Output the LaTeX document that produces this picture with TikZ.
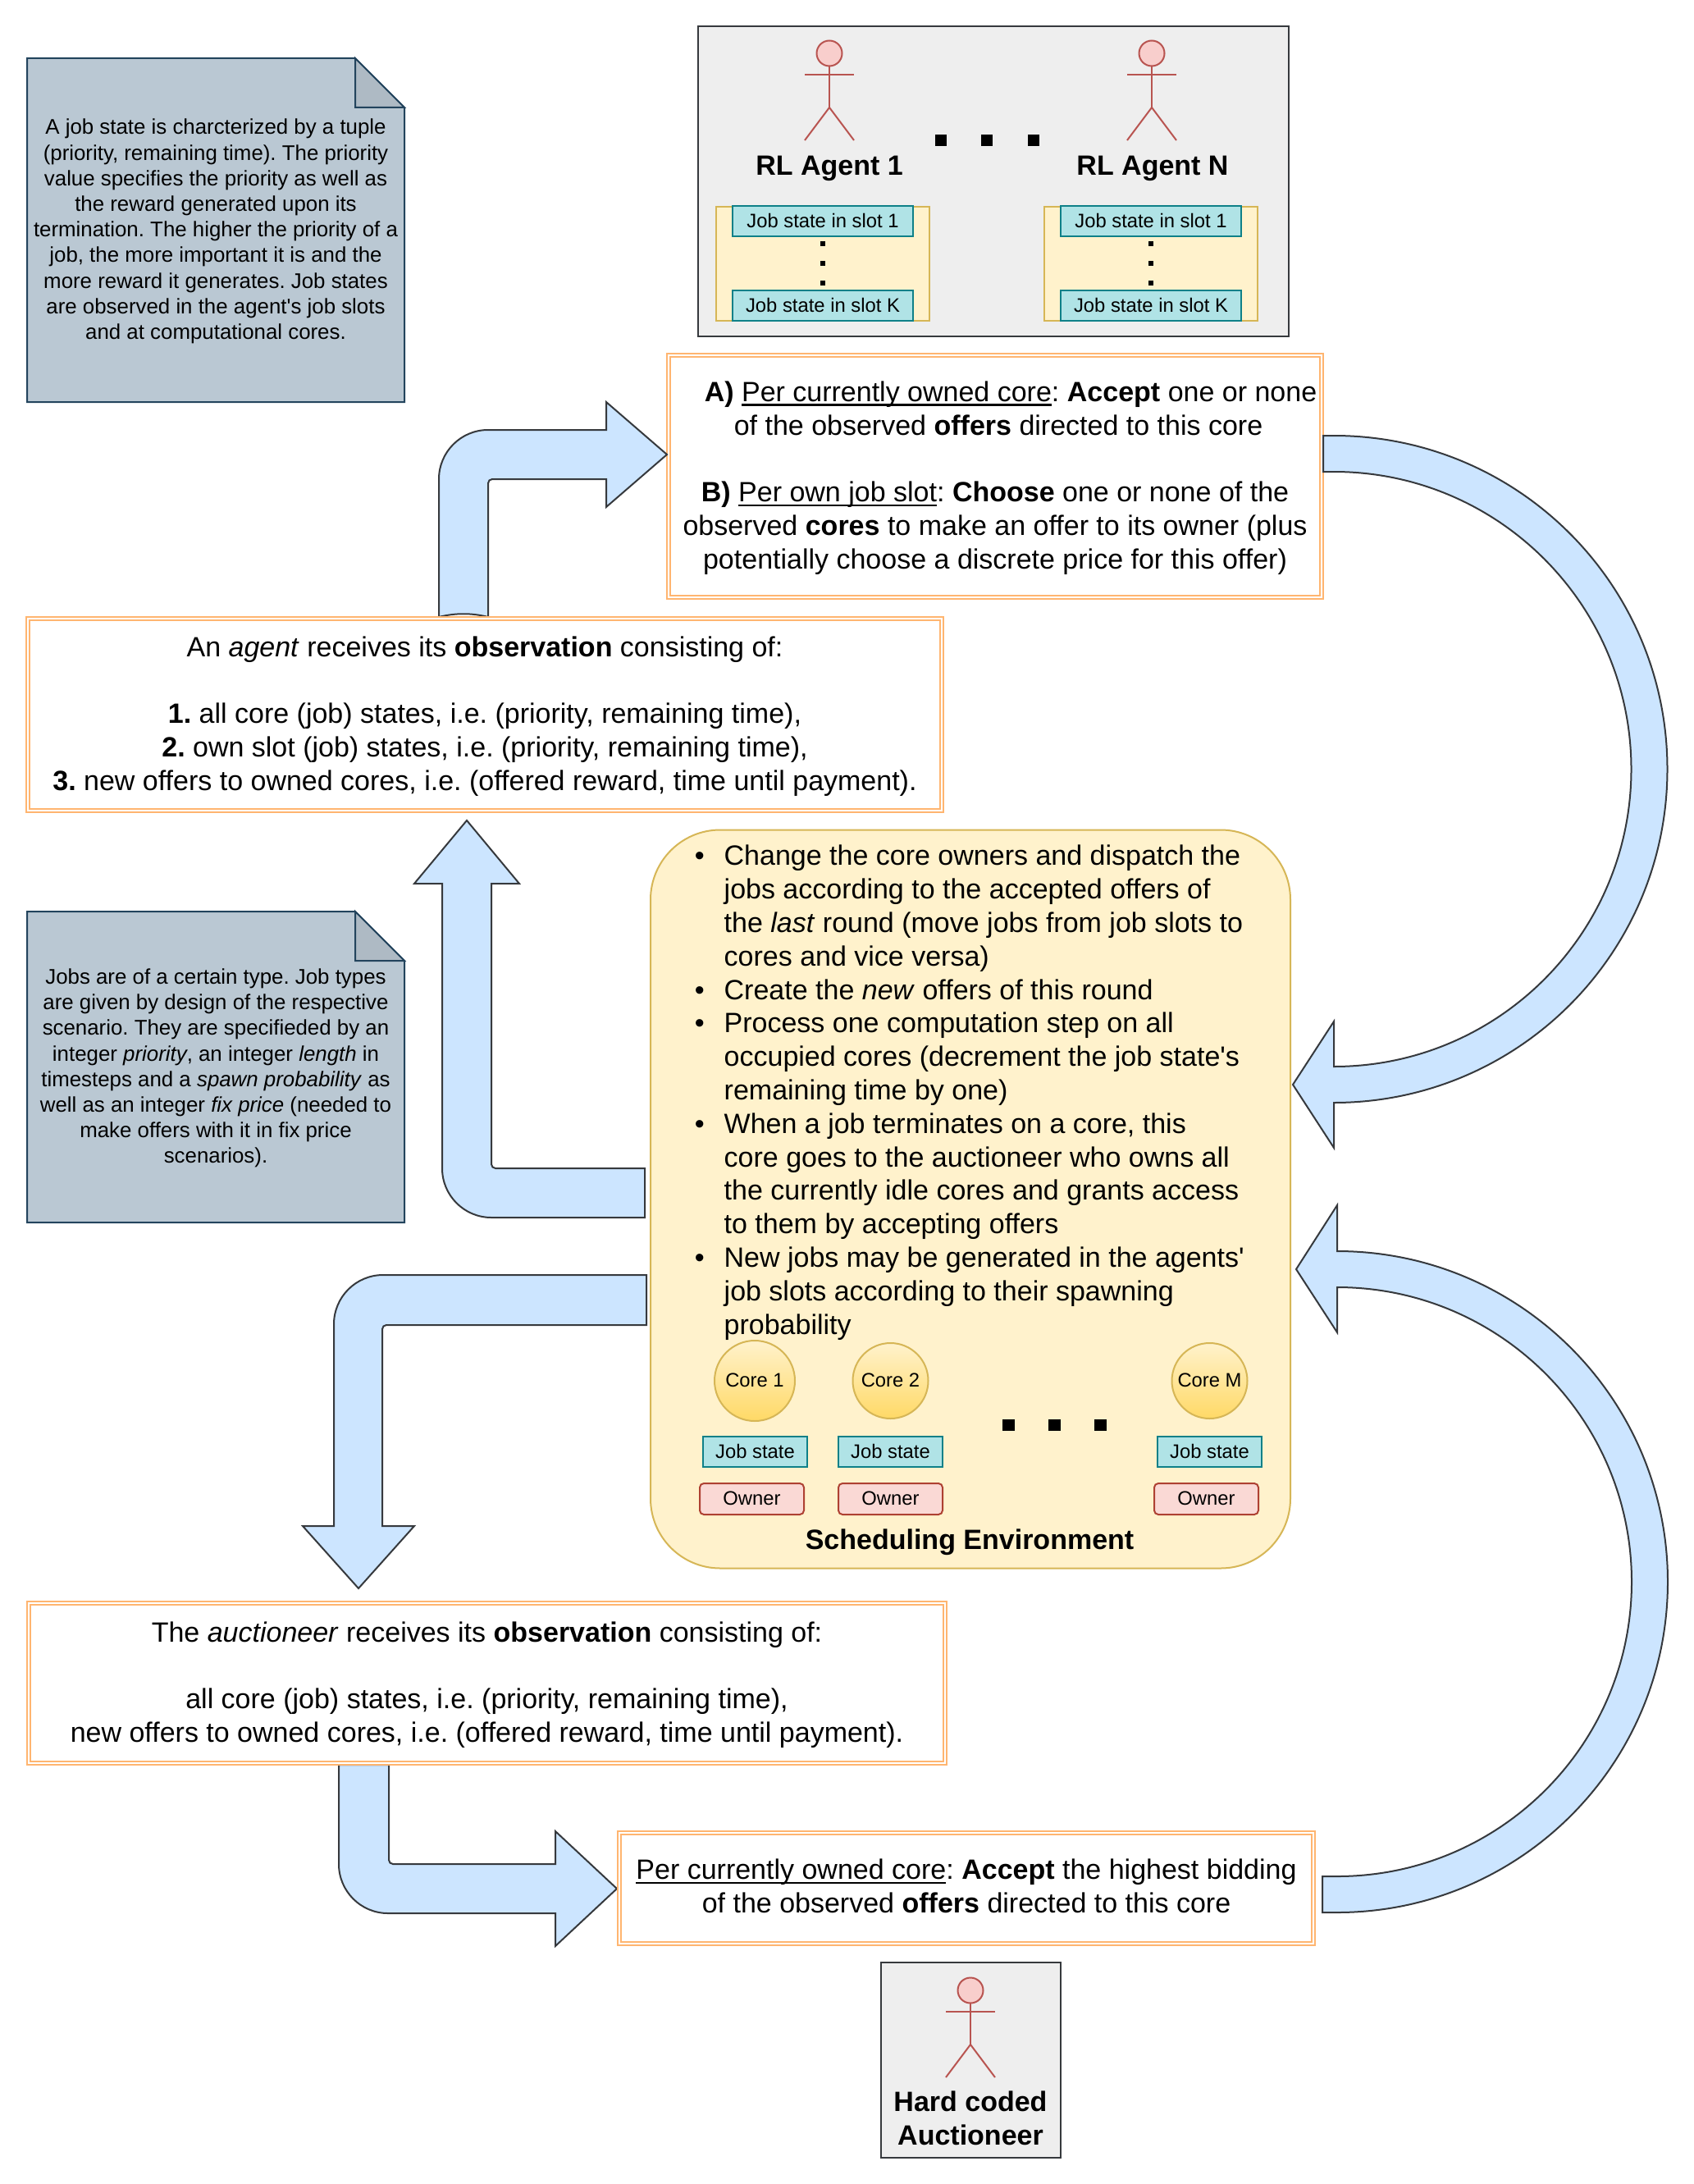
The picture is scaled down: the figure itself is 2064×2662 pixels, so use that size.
\documentclass[tikz,border=0pt]{standalone}
\usepackage{fontspec}
\setmainfont{Liberation Sans}[Ligatures={NoCommon,TeXOff}]
\usetikzlibrary{positioning}
\definecolor{blockfill}{HTML}{CCE5FF}
\definecolor{darkline}{HTML}{36393D}
\definecolor{obsline}{HTML}{FFB570}
\definecolor{envfill}{HTML}{FFF2CC}
\definecolor{envline}{HTML}{D6B656}
\definecolor{corefill}{HTML}{FFD966}
\definecolor{jobfill}{HTML}{B0E3E6}
\definecolor{jobline}{HTML}{0E8088}
\definecolor{ownfill}{HTML}{FAD9D5}
\definecolor{ownline}{HTML}{AE4132}
\definecolor{notefill}{HTML}{BAC8D3}
\definecolor{foldfill}{HTML}{AEBAC4}
\definecolor{noteline}{HTML}{23445D}
\definecolor{grayfill}{HTML}{EEEEEE}
\definecolor{actfill}{HTML}{F8CECC}
\definecolor{actline}{HTML}{B85450}
\newcommand{\ulbar}[1]{\leavevmode\setbox0\hbox{#1}\rlap{\vrule width\wd0 height -3pt depth 5.5pt}\box0}
\newcommand{\bitem}{\leavevmode\llap{\textbullet\hspace{24pt}}}
\frenchspacing

\begin{document}
\begin{tikzpicture}[x=1pt,y=-1pt,
bigfont/.style={font=\fontsize{34}{40.8}\selectfont\frenchspacing},
smallfont/.style={font=\fontsize{23.8}{28.6}\selectfont,text height=17pt,text depth=2pt},
blockarrow/.style={draw=darkline,fill=blockfill,line width=2pt,line join=miter},
obsbox/.style={draw=obsline,double=white,double distance=2pt,line width=2pt,fill=white,inner sep=0pt,align=center,bigfont},
jobbox/.style={draw=jobline,fill=jobfill,line width=2pt,inner sep=0pt,minimum height=37pt,smallfont},
ownbox/.style={draw=ownline,fill=ownfill,line width=2pt,rounded corners=5pt,inner sep=0pt,minimum width=127pt,minimum height=38pt,smallfont},
corecirc/.style={circle,draw=envline,top color=envfill,bottom color=corefill,line width=2pt,inner sep=0pt,smallfont},
notetext/.style={align=center,inner sep=0pt,font=\fontsize{25.85}{31.2}\selectfont\frenchspacing},
graybox/.style={draw=darkline,fill=grayfill,line width=2pt},
actor/.style={draw=actline,line width=2pt}]
\useasboundingbox (0,0) rectangle (2064,2662);

% agents on top
\draw [graybox] (851,32) rectangle (1571,410);
\draw [graybox] (1074,2392) rectangle (1293,2630);
\foreach \sx in {1003,1403} {
\fill [envfill,draw=envline,line width=2pt] (\sx-130,252) rectangle (\sx+130,391);
\node [jobbox,minimum width=220pt] (slota\sx) at (\sx,270) {Job state in slot 1};
\node [jobbox,minimum width=220pt] (slotk\sx) at (\sx,372.5) {Job state in slot K};
\foreach \dy in {297,321,345} \fill (\sx-3,\dy-3) rectangle ++(6,6);
}
\foreach \ax/\ay in {1011/50,1404/50,1183/2411} {
\draw [actor,fill=actfill] (\ax,\ay+15) circle (15.5pt);
\draw [actor] (\ax,\ay+30.5) -- (\ax,\ay+81);
\draw [actor] (\ax-30,\ay+41) -- (\ax+30,\ay+41);
\draw [actor] (\ax-30,\ay+121) -- (\ax,\ay+81) -- (\ax+30,\ay+121);
}
\node [bigfont,inner sep=0pt] (agentone) at (1011,205) {\textbf{RL Agent 1}};
\node [bigfont,inner sep=0pt] (agentn) at (1405,205) {\textbf{RL Agent N}};
\foreach \dx in {1147,1203,1259.5} \fill (\dx-7,164) rectangle ++(14,14);

% notes on the left
\foreach \nt/\nb in {71/490,1111/1490} {
\draw [draw=noteline,fill=notefill,line width=2pt] (33,\nt) -- (433,\nt) -- (493,\nt+60) -- (493,\nb) -- (33,\nb) -- cycle;
\draw [draw=noteline,fill=foldfill,line width=2pt] (433,\nt) -- (493,\nt+60) -- (433,\nt+60) -- cycle;
}
\node [notetext] (notestate) at (263,282) {A job state is charcterized by a tuple\\(priority, remaining time). The priority\\value specifies the priority as well as\\the reward generated upon its\\termination. The higher the priority of a\\job, the more important it is and the\\more reward it generates. Job states\\are observed in the agent's job slots\\and at computational cores.};
\node [notetext] (notetype) at (263,1302) {Jobs are of a certain type. Job types\\are given by design of the respective\\scenario. They are specifieded by an\\integer \textit{priority}, an integer \textit{length} in\\timesteps and a \textit{spawn probability} as\\well as an integer \textit{fix price} (needed to\\make offers with it in fix price\\scenarios).};

% action box of the agents
\node [obsbox,minimum width=796pt,minimum height=295pt] (action) at (1213,580.5) {\rule{0pt}{28.5pt}\hspace*{38pt}\textbf{A)} \ulbar{Per currently owned core}: \textbf{Accept} one or none\\\hspace*{8pt}of the observed \textbf{offers} directed to this core\\[40.8pt]\textbf{B)} \ulbar{Per own job slot}: \textbf{Choose} one or none of the\\observed \textbf{cores} to make an offer to its owner (plus\\potentially choose a discrete price for this offer)};

% block arrows
\draw [blockarrow] (535,752) -- (535,584) arc[start angle=180,end angle=90,radius=60pt] -- (739,524) -- (739,490) -- (813,554) -- (739,618) -- (739,584) -- (600,584) arc[start angle=90,end angle=180,radius=5pt] -- (595,752) .. controls (575,747) and (555,747) .. (535,752) -- cycle;
\draw [blockarrow] (1613,531) -- (1626,531) arc[start angle=90,end angle=-90,radius=406.5pt] -- (1626,1399) -- (1576,1322) -- (1626,1245) -- (1626,1300) arc[start angle=-90,end angle=90,radius=362.5pt] -- (1613,575) -- cycle;
\draw [blockarrow] (786,1484) -- (599,1484) arc[start angle=-90,end angle=-180,radius=60pt] -- (539,1077) -- (505,1077) -- (569,1000) -- (633,1077) -- (599,1077) -- (599,1419) arc[start angle=180,end angle=270,radius=5pt] -- (786,1424) -- cycle;
\draw [blockarrow] (788,1554) -- (467,1554) arc[start angle=90,end angle=180,radius=60pt] -- (407,1860) -- (369,1860) -- (437,1936) -- (505,1860) -- (466,1860) -- (466,1620) arc[start angle=180,end angle=90,radius=5pt] -- (788,1615) -- cycle;
\draw [blockarrow] (413,2151) -- (413,2272) arc[start angle=180,end angle=270,radius=60pt] -- (677,2332) -- (677,2372) -- (752,2302) -- (677,2232) -- (677,2272) -- (479,2272) arc[start angle=270,end angle=180,radius=5pt] -- (474,2151) -- cycle;
\draw [blockarrow] (1612,2331) -- (1630,2331) arc[start angle=-90,end angle=90,radius=403pt] -- (1630,1469) -- (1580,1547) -- (1630,1624) -- (1630,1569) arc[start angle=90,end angle=-90,radius=359pt] -- (1612,2287) -- cycle;

% observation boxes
\node [obsbox,minimum width=1114pt,minimum height=234pt] (agentobs) at (591,871) {\rule{0pt}{28.5pt}An \textit{agent} receives its \textbf{observation} consisting of:\\[40.8pt]\textbf{1.} all core (job) states, i.e. (priority, remaining time),\\\textbf{2.} own slot (job) states, i.e. (priority, remaining time),\\\textbf{3.} new offers to owned cores, i.e. (offered reward, time until payment).};
\node [obsbox,minimum width=1117pt,minimum height=195pt] (auctobs) at (593.5,2051.5) {\rule{0pt}{28.5pt}The \textit{auctioneer} receives its \textbf{observation} consisting of:\\[40.8pt]all core (job) states, i.e. (priority, remaining time),\\new offers to owned cores, i.e. (offered reward, time until payment).};
\node [obsbox,minimum width=846pt,minimum height=135pt] (auctaction) at (1178,2301.5) {\ulbar{Per currently owned core}: \textbf{Accept} the highest bidding\\of the observed \textbf{offers} directed to this core\rule[-5pt]{0pt}{1pt}};

% scheduling environment
\node [draw=envline,fill=envfill,line width=2pt,rounded corners=85pt,minimum width=780pt,minimum height=900pt,inner sep=0pt] (env) at (1183,1461.5) {};
\node [bigfont,align=left,anchor=north west,inner sep=0pt] (envtext) at (882.5,1030) {\bitem Change the core owners and dispatch the\\jobs according to the accepted offers of\\the \textit{last} round (move jobs from job slots to\\cores and vice versa)\\\bitem Create the \textit{new} offers of this round\\\bitem Process one computation step on all\\occupied cores (decrement the job state's\\remaining time by one)\\\bitem When a job terminates on a core, this\\core goes to the auctioneer who owns all\\the currently idle cores and grants access\\to them by accepting offers\\\bitem New jobs may be generated in the agents'\\job slots according to their spawning\\probability};
\node [corecirc,minimum size=98pt] (coreone) at (920,1683) {Core 1};
\node [corecirc,minimum size=92pt] (coretwo) at (1085.5,1683) {Core 2};
\node [corecirc,minimum size=92pt] (corem) at (1474.5,1683) {Core M};
\node [jobbox,minimum width=127pt] (jobone) at (920.5,1769.5) {Job state};
\node [jobbox,minimum width=127pt] (jobtwo) at (1085.5,1769.5) {Job state};
\node [jobbox,minimum width=127pt] (jobm) at (1474.5,1769.5) {Job state};
\node [ownbox] (ownone) at (916.5,1827) {Owner};
\node [ownbox] (owntwo) at (1085.5,1827) {Owner};
\node [ownbox] (ownm) at (1470.5,1827) {Owner};
\foreach \dx in {1222,1278,1334} \fill (\dx,1730) rectangle ++(15,14);
\node [bigfont,inner sep=0pt] (envname) at (1182,1880) {\textbf{Scheduling Environment}};

% auctioneer
\node [bigfont,align=center,inner sep=0pt] (auctname) at (1183,2582) {\textbf{Hard coded}\\\textbf{Auctioneer}};
\end{tikzpicture}
\end{document}
